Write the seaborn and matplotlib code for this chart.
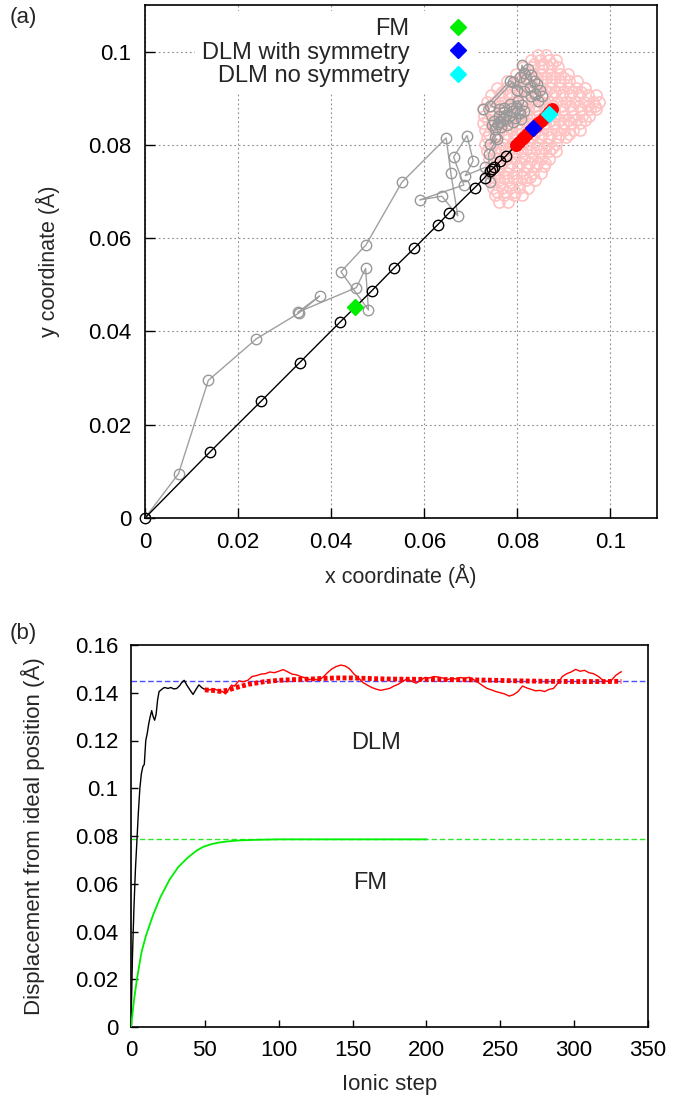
import numpy as np
import pandas as pd
import matplotlib
matplotlib.use("Agg")
import matplotlib.pyplot as plt
from matplotlib.lines import Line2D
from matplotlib.ticker import FuncFormatter, MultipleLocator
import seaborn as sns

# ---------------- data: panel (a) ----------------
# DLM with symmetry trajectory (black, open circles)
sym_x = [0.0, 0.0140, 0.0249, 0.0332, 0.0420, 0.0487, 0.0535, 0.0578, 0.0629, 0.0654,
         0.0708, 0.0730, 0.0742, 0.0746, 0.0750, 0.0763, 0.0776, 0.0796]
sym_y = [0.0, 0.0142, 0.0250, 0.0333, 0.0421, 0.0487, 0.0536, 0.0578, 0.0629, 0.0655,
         0.0708, 0.0730, 0.0745, 0.0748, 0.0752, 0.0765, 0.0777, 0.0799]
# later part of the symmetric run (red filled circles)
symend_x = [0.0797, 0.0803, 0.0809, 0.0815, 0.0821, 0.0827, 0.0833, 0.0839,
            0.0845, 0.0851, 0.0857, 0.0863, 0.0869, 0.0875]
symend_y = [0.0800, 0.0806, 0.0812, 0.0818, 0.0824, 0.0830, 0.0836, 0.0841,
            0.0847, 0.0852, 0.0858, 0.0864, 0.0870, 0.0876]

# DLM no symmetry, first part (grey path)
nosym_x = [0.0, 0.0072, 0.0136, 0.0239, 0.0330, 0.0375, 0.0328, 0.0454, 0.0474, 0.0480,
           0.0421, 0.0475, 0.0552, 0.0647, 0.0657, 0.0672, 0.0638, 0.0590, 0.0685, 0.0663,
           0.0692, 0.0705, 0.0688, 0.0731, 0.0742, 0.0738, 0.0756, 0.0742, 0.0753, 0.0727,
           0.0785, 0.0800, 0.0806, 0.0810, 0.0815, 0.0822, 0.0830, 0.0818, 0.0835, 0.0842,
           0.0828, 0.0848, 0.0838, 0.0852, 0.0845, 0.0830, 0.0815, 0.0790, 0.0742, 0.0760,
           0.0772, 0.0785, 0.0802, 0.0810, 0.0798, 0.0788, 0.0771, 0.0760, 0.0749, 0.0758,
           0.0770, 0.0782, 0.0795, 0.0805, 0.0790, 0.0778, 0.0765, 0.0752, 0.0745, 0.0762,
           0.0776, 0.0808, 0.0815]
nosym_y = [0.0, 0.0095, 0.0295, 0.0384, 0.0439, 0.0476, 0.0441, 0.0494, 0.0535, 0.0446,
           0.0528, 0.0586, 0.0720, 0.0815, 0.0740, 0.0648, 0.0690, 0.0682, 0.0714, 0.0774,
           0.0820, 0.0766, 0.0734, 0.0752, 0.0720, 0.0781, 0.0813, 0.0802, 0.0817, 0.0877,
           0.0938, 0.0917, 0.0945, 0.0971, 0.0955, 0.0962, 0.0950, 0.0942, 0.0938, 0.0930,
           0.0925, 0.0918, 0.0910, 0.0905, 0.0895, 0.0905, 0.0915, 0.0935, 0.0884, 0.0878,
           0.0880, 0.0888, 0.0895, 0.0885, 0.0880, 0.0872, 0.0870, 0.0862, 0.0852, 0.0845,
           0.0855, 0.0862, 0.0858, 0.0868, 0.0850, 0.0842, 0.0838, 0.0835, 0.0842, 0.0850,
           0.0865, 0.0855, 0.0872]

# DLM no symmetry, long run (pink cloud), rows of constant y
cloud_row_y = [0.0678, 0.0693, 0.0708, 0.0724, 0.0739, 0.0755, 0.0770, 0.0786, 0.0801,
               0.0816, 0.0831, 0.0846, 0.0861, 0.0876, 0.0891, 0.0906, 0.0921, 0.0936,
               0.0951, 0.0966, 0.0981, 0.0993]
cloud_row_x = [
    [0.0760, 0.0780],
    [0.0752, 0.0771, 0.0793, 0.0810],
    [0.0748, 0.0766, 0.0784, 0.0803, 0.0822],
    [0.0743, 0.0761, 0.0780, 0.0800, 0.0819, 0.0838],
    [0.0740, 0.0758, 0.0777, 0.0796, 0.0815, 0.0833, 0.0851],
    [0.0744, 0.0762, 0.0783, 0.0801, 0.0820, 0.0839, 0.0858],
    [0.0738, 0.0757, 0.0776, 0.0795, 0.0814, 0.0832, 0.0851, 0.0869],
    [0.0734, 0.0753, 0.0773, 0.0792, 0.0811, 0.0830, 0.0849, 0.0867, 0.0882],
    [0.0731, 0.0750, 0.0769, 0.0788, 0.0807, 0.0826, 0.0845, 0.0864, 0.0883],
    [0.0735, 0.0754, 0.0774, 0.0793, 0.0812, 0.0831, 0.0850, 0.0869, 0.0888, 0.0904],
    [0.0730, 0.0749, 0.0768, 0.0787, 0.0806, 0.0825, 0.0844, 0.0863, 0.0882, 0.0901,
     0.0920, 0.0934],
    [0.0726, 0.0745, 0.0764, 0.0783, 0.0802, 0.0821, 0.0840, 0.0859, 0.0878, 0.0897,
     0.0916, 0.0935],
    [0.0729, 0.0748, 0.0767, 0.0786, 0.0805, 0.0824, 0.0843, 0.0862, 0.0881, 0.0900,
     0.0919, 0.0938, 0.0954],
    [0.0727, 0.0746, 0.0765, 0.0784, 0.0803, 0.0822, 0.0841, 0.0860, 0.0879, 0.0898,
     0.0917, 0.0936, 0.0955, 0.0968],
    [0.0734, 0.0753, 0.0772, 0.0791, 0.0810, 0.0829, 0.0848, 0.0867, 0.0886, 0.0905,
     0.0924, 0.0943, 0.0962, 0.0975],
    [0.0743, 0.0762, 0.0781, 0.0800, 0.0819, 0.0838, 0.0857, 0.0876, 0.0895, 0.0914,
     0.0933, 0.0952, 0.0969],
    [0.0756, 0.0775, 0.0794, 0.0813, 0.0832, 0.0851, 0.0870, 0.0889, 0.0908, 0.0927,
     0.0946],
    [0.0778, 0.0797, 0.0816, 0.0835, 0.0854, 0.0873, 0.0892, 0.0911, 0.0929],
    [0.0796, 0.0815, 0.0834, 0.0853, 0.0872, 0.0891, 0.0909],
    [0.0812, 0.0831, 0.0850, 0.0869, 0.0888],
    [0.0829, 0.0848, 0.0867, 0.0884],
    [0.0844, 0.0862],
]
# further cloud points filling the interior
cloud2_row_y = [0.0700, 0.0731, 0.0762, 0.0793, 0.0824, 0.0854, 0.0884, 0.0914, 0.0944,
                0.0974]
cloud2_row_x = [
    [0.0757, 0.0776, 0.0795],
    [0.0752, 0.0771, 0.0790, 0.0809, 0.0828],
    [0.0748, 0.0767, 0.0786, 0.0805, 0.0824, 0.0842, 0.0860],
    [0.0744, 0.0763, 0.0782, 0.0801, 0.0820, 0.0839, 0.0857, 0.0875],
    [0.0740, 0.0759, 0.0778, 0.0797, 0.0816, 0.0835, 0.0854, 0.0873, 0.0892, 0.0910],
    [0.0737, 0.0756, 0.0775, 0.0794, 0.0813, 0.0832, 0.0851, 0.0870, 0.0889, 0.0908,
     0.0927, 0.0945],
    [0.0743, 0.0762, 0.0781, 0.0800, 0.0819, 0.0838, 0.0857, 0.0876, 0.0895, 0.0914,
     0.0933, 0.0952, 0.0966],
    [0.0766, 0.0785, 0.0804, 0.0823, 0.0842, 0.0861, 0.0880, 0.0899, 0.0918, 0.0937],
    [0.0805, 0.0824, 0.0843, 0.0862, 0.0881, 0.0900],
    [0.0836, 0.0855, 0.0874],
]

# final positions (diamonds)
final_labels = ["FM", "DLM with symmetry", "DLM no symmetry"]
final_x = [0.0452, 0.0834, 0.0867]
final_y = [0.0453, 0.0837, 0.0867]
final_colors = ["#00ee00", "#0000ff", "#00ffff"]

# ---------------- data: panel (b) ----------------
dlm_start_step = [0, 1, 2, 3, 4, 5, 6, 7, 8, 9, 10, 11, 12, 13, 14, 15, 16, 17, 18, 19,
                  20, 22, 23, 25, 27, 29, 31, 33, 34, 36, 38, 40, 42, 44, 46, 48, 50]
dlm_start_disp = [0.0, 0.030, 0.050, 0.066, 0.078, 0.090, 0.100, 0.106, 0.109, 0.110,
                  0.120, 0.123, 0.127, 0.130, 0.1325, 0.1300, 0.1285, 0.1310, 0.1370,
                  0.1405, 0.1410, 0.1420, 0.1422, 0.1418, 0.1422, 0.1416, 0.1418, 0.1430,
                  0.1440, 0.1452, 0.1430, 0.1411, 0.1393, 0.1414, 0.1433, 0.1421, 0.1414]

dlm_step = [50, 53, 56, 59, 62, 64, 66, 68, 70, 73, 76, 79, 82, 85, 88, 91, 94, 97, 100,
            103, 106, 109, 112, 115, 118, 121, 124, 127, 130, 133, 136, 139, 142, 145, 148,
            151, 154, 157, 160, 163, 166, 169, 172, 175, 178, 181, 184, 187, 190, 193, 196,
            199, 202, 205, 208, 211, 214, 217, 220, 223, 226, 229, 232, 235, 238, 241, 244,
            247, 250, 253, 256, 259, 262, 265, 268, 271, 274, 277, 280, 283, 286, 289, 292,
            295, 298, 301, 304, 307, 310, 313, 316, 319, 322, 325, 328, 331, 332]
dlm_disp = [0.1414, 0.1412, 0.1416, 0.1410, 0.1405, 0.1395, 0.1412, 0.1432, 0.1428, 0.1450,
            0.1446, 0.1452, 0.1468, 0.1472, 0.1478, 0.1480, 0.1487, 0.1484, 0.1490, 0.1497,
            0.1488, 0.1478, 0.1475, 0.1468, 0.1462, 0.1455, 0.1458, 0.1452, 0.1465, 0.1484,
            0.1500, 0.1510, 0.1516, 0.1512, 0.1500, 0.1478, 0.1462, 0.1443, 0.1432, 0.1422,
            0.1415, 0.1410, 0.1414, 0.1418, 0.1428, 0.1436, 0.1448, 0.1458, 0.1448, 0.1440,
            0.1452, 0.1464, 0.1462, 0.1468, 0.1466, 0.1462, 0.1455, 0.1460, 0.1458, 0.1464,
            0.1460, 0.1465, 0.1455, 0.1443, 0.1430, 0.1418, 0.1412, 0.1405, 0.1400, 0.1395,
            0.1386, 0.1392, 0.1405, 0.1428, 0.1420, 0.1414, 0.1408, 0.1410, 0.1405, 0.1414,
            0.1418, 0.1440, 0.1468, 0.1480, 0.1487, 0.1498, 0.1490, 0.1494, 0.1484, 0.1480,
            0.1470, 0.1455, 0.1448, 0.1450, 0.1472, 0.1485, 0.1488]

dlm_avg_step = [50, 55, 60, 65, 70, 75, 80, 90, 100, 110, 120, 130, 140, 150, 160, 170,
                180, 200, 220, 240, 260, 280, 300, 320, 332]
dlm_avg_disp = [0.1412, 0.1410, 0.1406, 0.1410, 0.1420, 0.1428, 0.1436, 0.1446, 0.1452,
                0.1455, 0.1457, 0.1460, 0.1462, 0.1462, 0.1460, 0.1458, 0.1457, 0.1456,
                0.1455, 0.1453, 0.1450, 0.1448, 0.1447, 0.1447, 0.1448]

fm_step = [0, 2, 4, 7, 10, 15, 20, 26, 32, 38, 44, 49, 55, 60, 65, 70, 75, 85, 100, 120,
           150, 200]
fm_disp = [0.0, 0.011, 0.020, 0.031, 0.038, 0.047, 0.0545, 0.0616, 0.067, 0.0707, 0.0737,
           0.0755, 0.0767, 0.0773, 0.0777, 0.0780, 0.0782, 0.0784, 0.0786, 0.0786, 0.0786,
           0.0786]

dlm_level = 0.145
fm_level = 0.0786

# ---------------- styling ----------------
sns.set_theme(style="white")
plt.rcParams['font.family'] = ['Liberation Sans', 'DejaVu Sans']
plt.rcParams['axes.edgecolor'] = 'black'
plt.rcParams['axes.linewidth'] = 1.2

fig = plt.figure(figsize=(6.88, 11.06), dpi=100)
W, H = 688, 1106
ax1 = fig.add_axes([145 / W, 1 - 518 / H, 512 / W, 513 / H])
ax2 = fig.add_axes([131 / W, 1 - 1027 / H, 517 / W, 382 / H])

# ---- panel (a) ----
cloud_x = [x for row in cloud_row_x + cloud2_row_x for x in row]
cloud_y = [y for y, row in zip(cloud_row_y + cloud2_row_y, cloud_row_x + cloud2_row_x)
           for _ in row]
df_cloud = pd.DataFrame({"x": cloud_x, "y": cloud_y})
df_nosym = pd.DataFrame({"x": nosym_x, "y": nosym_y})
df_sym = pd.DataFrame({"x": sym_x, "y": sym_y})
df_symend = pd.DataFrame({"x": symend_x, "y": symend_y})

pink = "#ffc2c2"
sns.lineplot(data=df_cloud, x="x", y="y", sort=False, estimator=None, ax=ax1,
             linestyle="", marker="o", markersize=8.0, markerfacecolor="none",
             markeredgecolor=pink, markeredgewidth=1.2, color=pink, zorder=2)
sns.lineplot(data=df_nosym, x="x", y="y", sort=False, estimator=None, ax=ax1,
             color="#a0a0a0", linewidth=1.0, marker="o", markersize=7.5,
             markerfacecolor="none", markeredgecolor="#999999", markeredgewidth=1.0,
             zorder=3)
sns.lineplot(data=df_sym, x="x", y="y", sort=False, estimator=None, ax=ax1,
             color="black", linewidth=1.0, marker="o", markersize=7.5,
             markerfacecolor="none", markeredgecolor="black", markeredgewidth=1.0,
             zorder=4, clip_on=False)
sns.lineplot(data=df_symend, x="x", y="y", sort=False, estimator=None, ax=ax1,
             color="red", linewidth=2, marker="o", markersize=8.5,
             markerfacecolor="red", markeredgecolor="red", zorder=5)
for fx, fy, fc in zip(final_x, final_y, final_colors):
    ax1.plot([fx], [fy], linestyle="", marker="D", markersize=8, color=fc,
             markeredgecolor=fc, zorder=6)

ax1.set_xlim(0, 0.11)
ax1.set_ylim(0, 0.11)
ax1.xaxis.set_major_locator(MultipleLocator(0.02))
ax1.yaxis.set_major_locator(MultipleLocator(0.02))
fmt = FuncFormatter(lambda v, p: f"{v:g}")
ax1.xaxis.set_major_formatter(fmt)
ax1.yaxis.set_major_formatter(fmt)
ax1.set_axisbelow(True)
ax1.grid(True, color="#8c8c8c", linestyle=(0, (1.5, 2.5)), linewidth=0.8)
ax1.tick_params(direction="in", length=7, width=1, labelsize=16, bottom=True,
                left=True, top=False, right=False, pad=10, colors="black")
ax1.set_xlabel("x coordinate (Å)", fontsize=15.5, labelpad=8)
ax1.set_ylabel("y coordinate (Å)", fontsize=15.5, labelpad=20)

handles = [Line2D([], [], linestyle="", marker="D", markersize=8, color=c,
                  markeredgecolor=c) for c in final_colors]
leg = ax1.legend(handles, final_labels, loc="upper right", bbox_to_anchor=(0.648, 0.988),
                 markerfirst=False, frameon=True, facecolor="white", edgecolor="none",
                 framealpha=1, fontsize=17, labelspacing=0.06, handlelength=1.0,
                 handletextpad=1.55, borderpad=0.3, borderaxespad=0)
leg.set_zorder(10)

# ---- panel (b) ----
df_start = pd.DataFrame({"step": dlm_start_step, "disp": dlm_start_disp})
df_dlm = pd.DataFrame({"step": dlm_step, "disp": dlm_disp})
df_avg = pd.DataFrame({"step": dlm_avg_step, "disp": dlm_avg_disp})
df_fm = pd.DataFrame({"step": fm_step, "disp": fm_disp})

ax2.axhline(dlm_level, color="#4b4bff", linestyle=(0, (4, 2)), linewidth=1.0, zorder=1)
ax2.axhline(fm_level, color="#33e633", linestyle=(0, (4, 2)), linewidth=1.0, zorder=1)
sns.lineplot(data=df_start, x="step", y="disp", sort=False, estimator=None, ax=ax2,
             color="black", linewidth=1.0, zorder=3)
sns.lineplot(data=df_fm, x="step", y="disp", sort=False, estimator=None, ax=ax2,
             color="#00ee00", linewidth=1.3, zorder=3)
sns.lineplot(data=df_dlm, x="step", y="disp", sort=False, estimator=None, ax=ax2,
             color="red", linewidth=1.0, zorder=3)
sns.lineplot(data=df_avg, x="step", y="disp", sort=False, estimator=None, ax=ax2,
             color="red", linewidth=3.5, linestyle=(0, (0.8, 0.5)), zorder=4)

ax2.text(166, 0.119, "DLM", fontsize=17, ha="center", va="center")
ax2.text(162, 0.0603, "FM", fontsize=17, ha="center", va="center")

ax2.set_xlim(0, 350)
ax2.set_ylim(0, 0.16)
ax2.xaxis.set_major_locator(MultipleLocator(50))
ax2.yaxis.set_major_locator(MultipleLocator(0.02))
ax2.yaxis.set_major_formatter(fmt)
ax2.tick_params(direction="in", length=5, width=1, labelsize=16, bottom=True,
                left=True, top=False, right=False, pad=9, colors="black")
ax2.set_xlabel("Ionic step", fontsize=16, labelpad=10)
ax2.set_ylabel("Displacement from ideal position (Å)", fontsize=16, labelpad=22)

fig.text(10 / W, 1 - 18 / H, "(a)", fontsize=16, ha="left", va="center")
fig.text(10 / W, 1 - 633 / H, "(b)", fontsize=16, ha="left", va="center")

fig.savefig("out.png", dpi=100)
